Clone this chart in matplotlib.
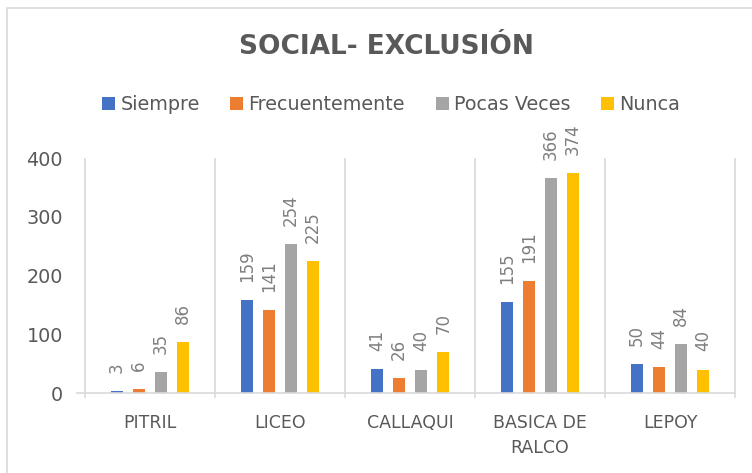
import matplotlib
matplotlib.use("Agg")
import matplotlib.pyplot as plt
import numpy as np
from matplotlib.patches import Rectangle, Patch

plt.rcParams['font.family'] = ['DejaVu Sans']

title = "SOCIAL- EXCLUSIÓN"
categories = ["PITRIL", "LICEO", "CALLAQUI", "BASICA DE\nRALCO", "LEPOY"]
series_names = ["Siempre", "Frecuentemente", "Pocas Veces", "Nunca"]
siempre = [3, 159, 41, 155, 50]
frecuentemente = [6, 141, 26, 191, 44]
pocas_veces = [35, 254, 40, 366, 84]
nunca = [86, 225, 70, 374, 40]
yticks = [0, 100, 200, 300, 400]

series = [siempre, frecuentemente, pocas_veces, nunca]
colors = ["#4472C4", "#ED7D31", "#A5A5A5", "#FFC000"]
text_color = "#595959"
line_color = "#D9D9D9"

fig = plt.figure(figsize=(7.52, 4.73), dpi=100)
fig.patches.append(Rectangle((7/752, -0.05), 1.2, (473-8)/473 + 0.05,
                             transform=fig.transFigure, fill=False,
                             edgecolor=line_color, linewidth=1.2))

ax = fig.add_axes([85/752, 80/473, 650/752, 235/473])
x = np.arange(len(categories))
pitch = 0.17
width = 0.092
for i, (vals, col) in enumerate(zip(series, colors)):
    off = (i - 1.5) * pitch
    ax.bar(x + off, vals, width=width, color=col, label=series_names[i], zorder=3)
    for xi, v in zip(x + off, vals):
        ax.annotate(str(v), (xi, v), xytext=(0, 13), textcoords="offset points",
                    rotation=90, ha="center", va="bottom", fontsize=12,
                    color="#7F7F7F", annotation_clip=False)

ax.set_xlim(-0.5, len(categories) - 0.5)
ax.set_ylim(0, 400)
for s in ax.spines.values():
    s.set_visible(False)
# category separators
bounds = np.arange(len(categories) + 1) - 0.5
ax.vlines(bounds, -400 * 5 / 235, 400, colors=line_color, linewidth=1.2, clip_on=False, zorder=1)
ax.plot([-0.5 - 8 / 130, len(categories) - 0.5], [0, 0], color=line_color, linewidth=1.2,
        clip_on=False, zorder=4)

ax.set_yticks(yticks)
ax.tick_params(axis="y", length=0, pad=16, labelsize=13.8, labelcolor=text_color)
ax.set_xticks(x)
ax.set_xticklabels(categories, fontsize=12.5, color=text_color, linespacing=1.5)
ax.tick_params(axis="x", length=0, pad=15)

fig.text(386/752, 1 - 47/473, title, ha="center", va="center", fontsize=19,
         fontweight="bold", color=text_color)

handles = [Patch(facecolor=c, edgecolor="none") for c in colors]
fig.legend(handles, series_names, loc="center", bbox_to_anchor=(391/752, 1 - 105/473),
           ncol=4, frameon=False, fontsize=13.8, labelcolor=text_color,
           handlelength=0.68, handleheight=0.68, handletextpad=0.26, columnspacing=1.6)

fig.savefig("out.png", dpi=100)
